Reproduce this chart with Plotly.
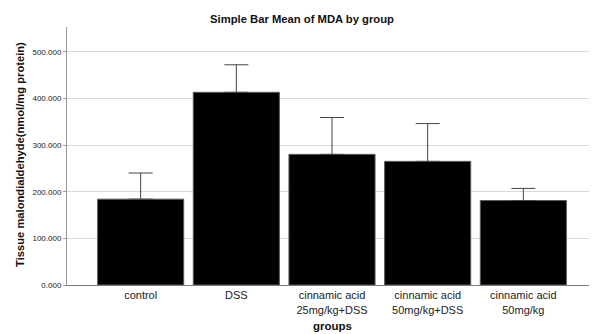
import plotly.graph_objects as go

categories = ["control", "DSS", "cinnamic acid<br>25mg/kg+DSS",
              "cinnamic acid<br>50mg/kg+DSS", "cinnamic acid<br>50mg/kg"]
means = [184, 413, 280, 265, 181]
upper = [240, 472, 359, 346, 207]
err_plus = [u - m for u, m in zip(upper, means)]
y_ticks = [0, 100, 200, 300, 400, 500]
y_tick_labels = ["0.000", "100.000", "200.000", "300.000", "400.000", "500.000"]

FONT = "Liberation Sans, Arial, sans-serif"

fig = go.Figure(go.Bar(
    x=list(range(len(categories))), y=means, width=0.9,
    marker=dict(color="black", line=dict(color="#5a5a5a", width=1)),
    error_y=dict(type="data", symmetric=False, array=err_plus,
                 arrayminus=[0] * len(means), color="#444444",
                 thickness=1, width=12),
))

fig.update_layout(
    width=597, height=334,
    margin=dict(l=59, r=8, t=19, b=57),
    paper_bgcolor="white", plot_bgcolor="white",
    showlegend=False,
    font=dict(family=FONT, color="#222222"),
    xaxis=dict(range=[-0.77, 4.77], tickmode="array",
               tickvals=list(range(len(categories))), ticktext=categories,
               tickfont=dict(size=11, color="#222222"),
               showgrid=False, showline=True, linecolor="#7a7a7a",
               linewidth=1, ticks="", zeroline=False),
    yaxis=dict(range=[0, 553], tickmode="array", tickvals=y_ticks,
               ticktext=y_tick_labels, tickfont=dict(size=8, color="#222222"),
               showgrid=True, gridcolor="#d9d9d9", gridwidth=1,
               showline=True, linecolor="#9a9a9a", linewidth=1,
               ticks="outside", ticklen=3, tickcolor="#9a9a9a",
               zeroline=False),
    annotations=[
        dict(text="<b>Simple Bar Mean of MDA by group</b>", xref="paper",
             yref="paper", x=0.443, y=1, yshift=8, xanchor="center",
             yanchor="middle", showarrow=False,
             font=dict(size=11.25, color="#111111", family=FONT)),
        dict(text="<b>Tissue malondialdehyde(nmol/mg protein)</b>",
             xref="paper", yref="paper", x=0, xshift=-47, y=0.504,
             textangle=-90, xanchor="center", yanchor="middle",
             showarrow=False,
             font=dict(size=11.2, color="#111111", family=FONT)),
        dict(text="<b>groups</b>", xref="paper", yref="paper", x=0.5,
             y=0, yshift=-41, xanchor="center", yanchor="middle",
             showarrow=False,
             font=dict(size=11.5, color="#111111", family=FONT)),
    ],
)

fig.write_html("out.html")
